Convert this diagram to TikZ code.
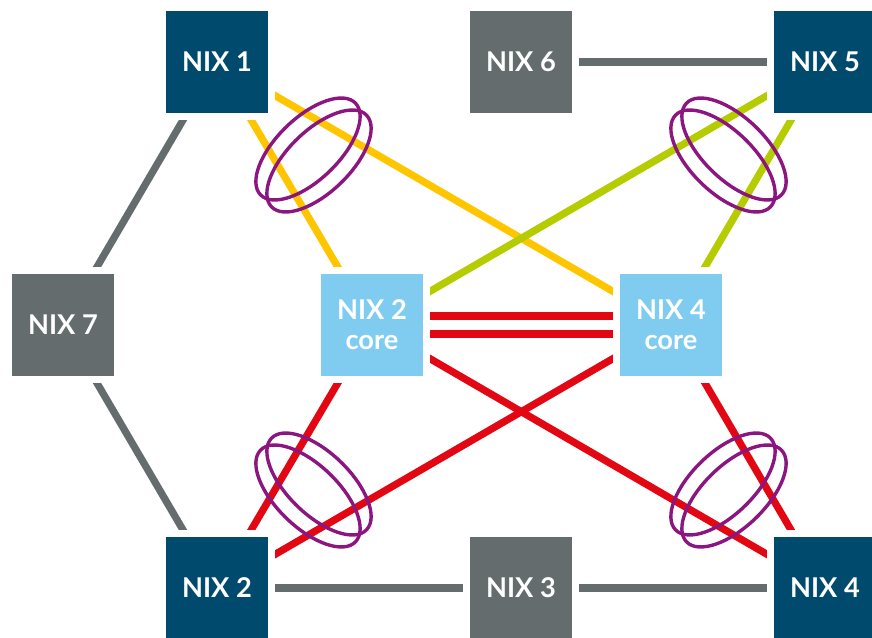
\documentclass[tikz,border=0pt]{standalone}
\usepackage{fontspec}
\setmainfont{Lato}
\usetikzlibrary{backgrounds}
\definecolor{dblue}{RGB}{0,74,110}
\definecolor{ngray}{RGB}{100,108,110}
\definecolor{lblue}{RGB}{128,204,240}
\definecolor{nyellow}{RGB}{255,198,0}
\definecolor{ngreen}{RGB}{181,204,0}
\definecolor{nred}{RGB}{227,6,19}
\definecolor{npurple}{RGB}{140,22,128}
\begin{document}
\begin{tikzpicture}[x=0.02cm,y=-0.02cm,
  box/.style={minimum size=2.04cm, inner sep=0pt, outer sep=0pt, text=white,
    font=\fontsize{15.5}{17}\selectfont\bfseries, align=center,
    preaction={draw=white, line width=0.28cm}},
  outerbox/.style={box, fill=dblue},
  graybox/.style={box, fill=ngray},
  corebox/.style={box, fill=lblue},
  link/.style={line width=0.145cm},
  ring/.style={draw=npurple, line width=0.068cm}]
\useasboundingbox (0,0) rectangle (872,638);
\clip (0,0) rectangle (872,638);
\node[outerbox] (n1) at (217,62) {NIX 1};
\node[graybox] (n6) at (521,62) {NIX 6};
\node[outerbox] (n5) at (825,62) {NIX 5};
\node[graybox] (n7) at (63,325) {NIX 7};
\node[corebox] (c2) at (372,325) {NIX 2\\core};
\node[corebox] (c4) at (671,325) {NIX 4\\core};
\node[outerbox] (n2) at (217,588) {NIX 2};
\node[graybox] (n3) at (521,588) {NIX 3};
\node[outerbox] (n4) at (825,588) {NIX 4};
\begin{scope}[on background layer]
  \fill[white] (0,0) rectangle (872,638);
  \draw[link, ngray] (n1.center) -- (n7.center);
  \draw[link, ngray] (n7.center) -- (n2.center);
  \draw[link, ngray] (n6.center) -- (n5.center);
  \draw[link, ngray] (n2.center) -- (n3.center);
  \draw[link, ngray] (n3.center) -- (n4.center);
  \draw[link, nyellow] (n1.center) -- (c2.center);
  \draw[link, nyellow] (n1.center) -- (c4.center);
  \draw[link, ngreen] (n5.center) -- (c2.center);
  \draw[link, ngreen] (n5.center) -- (c4.center);
  \draw[link, nred] (n2.center) -- (c2.center);
  \draw[link, nred] (n2.center) -- (c4.center);
  \draw[link, nred] (n4.center) -- (c2.center);
  \draw[link, nred] (n4.center) -- (c4.center);
  \draw[link, nred] ([yshift=0.18cm]c2.center) -- ([yshift=0.18cm]c4.center);
  \draw[link, nred] ([yshift=-0.18cm]c2.center) -- ([yshift=-0.18cm]c4.center);
\end{scope}
% rings
\draw[ring, rotate around={44:(308,149)}] (308,149) ellipse [x radius=66, y radius=31];
\draw[ring, rotate around={44:(319,161)}] (319,161) ellipse [x radius=66, y radius=31];
\draw[ring, rotate around={-44:(734,149)}] (734,149) ellipse [x radius=66, y radius=31];
\draw[ring, rotate around={-44:(723,161)}] (723,161) ellipse [x radius=66, y radius=31];
\draw[ring, rotate around={-44:(308,496)}] (308,496) ellipse [x radius=66, y radius=31];
\draw[ring, rotate around={-44:(319,484)}] (319,484) ellipse [x radius=66, y radius=31];
\draw[ring, rotate around={44:(734,496)}] (734,496) ellipse [x radius=66, y radius=31];
\draw[ring, rotate around={44:(723,484)}] (723,484) ellipse [x radius=66, y radius=31];
\end{tikzpicture}
\end{document}
